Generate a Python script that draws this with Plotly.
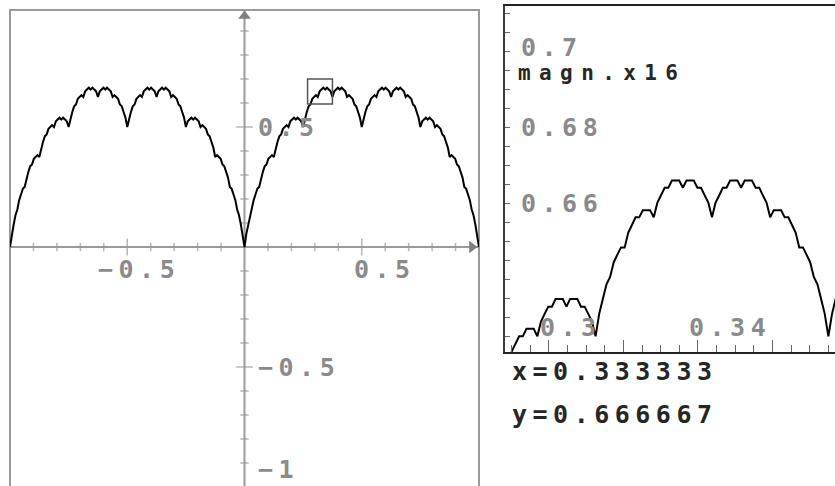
import plotly.graph_objects as go

W, H = 835, 486

# ---------------- data ----------------
# curve values for x = 0, 1/128, ..., 1/2 (curve is mirror-symmetric about x=1/2 and x=0)
half_curve_y = [0, 0.0547, 0.0938, 0.1328, 0.1563, 0.1953, 0.2188, 0.2422, 0.25,
                0.2891, 0.3125, 0.3359, 0.3438, 0.3672, 0.375, 0.3828, 0.375,
                0.4141, 0.4375, 0.4609, 0.4688, 0.4922, 0.5, 0.5078, 0.5,
                0.5234, 0.5313, 0.5391, 0.5313, 0.5391, 0.5313, 0.5234, 0.5,
                0.5391, 0.5625, 0.5859, 0.5938, 0.6172, 0.625, 0.6328, 0.625,
                0.6484, 0.6563, 0.6641, 0.6563, 0.6641, 0.6563, 0.6484, 0.625,
                0.6484, 0.6563, 0.6641, 0.6563, 0.6641, 0.6563, 0.6484, 0.625,
                0.6328, 0.625, 0.6172, 0.5938, 0.5859, 0.5625, 0.5391, 0.5]
half_step = 1 / 128

# magnified window (x16) around x = 1/3, samples every 1/1024 starting at 295/1024
zoom_x0, zoom_step = 295 / 1024, 1 / 1024
zoom_y = [0.6172, 0.6172, 0.6211, 0.6230, 0.6250, 0.6250, 0.6270, 0.6270, 0.6270,
          0.6250, 0.6289, 0.6309, 0.6328, 0.6328, 0.6348, 0.6348, 0.6348, 0.6328,
          0.6348, 0.6348, 0.6348, 0.6328, 0.6328, 0.6309, 0.6289, 0.6250, 0.6309,
          0.6348, 0.6387, 0.6406, 0.6445, 0.6465, 0.6484, 0.6484, 0.6523, 0.6543,
          0.6563, 0.6563, 0.6582, 0.6582, 0.6582, 0.6563, 0.6602, 0.6621, 0.6641,
          0.6641, 0.6660, 0.6660, 0.6660, 0.6641, 0.6660, 0.6660, 0.6660, 0.6641,
          0.6641, 0.6621, 0.6602, 0.6563, 0.6602, 0.6621, 0.6641, 0.6641, 0.6660,
          0.6660, 0.6660, 0.6641, 0.6660, 0.6660, 0.6660, 0.6641, 0.6641, 0.6621,
          0.6602, 0.6563, 0.6582, 0.6582, 0.6582, 0.6563, 0.6563, 0.6543, 0.6523,
          0.6484, 0.6484, 0.6465, 0.6445, 0.6406, 0.6387, 0.6348, 0.6309, 0.6250,
          0.6309, 0.6348, 0.6387]

# axes / ticks
left_x_range = [-1.0, 1.0]
left_y_range = [-0.9958, 0.9875]
left_minor_ticks = [-0.9, -0.8, -0.7, -0.6, -0.4, -0.3, -0.2, -0.1,
                    0.1, 0.2, 0.3, 0.4, 0.6, 0.7, 0.8, 0.9]
left_x_major_ticks = [-0.5, 0.5]
left_y_major_ticks = [-1.0, -0.5, 0.5]
left_x_labels = [(-0.5, "\u22120.5"), (0.5, "0.5")]
left_y_labels = [(0.5, "0.5"), (-0.5, "\u22120.5"), (-1.0, "\u22121")]
zoom_box_x = [0.269, 0.375]
zoom_box_y = [0.596, 0.700]

right_x_range = [0.28819, 0.37678]
right_y_range = [0.62087, 0.71192]
right_x_labels = [(0.30, "0.3"), (0.34, "0.34")]
right_y_labels = [(0.70, "0.7"), (0.68, "0.68"), (0.66, "0.66")]
info_title = "magn.x16"
info_x = "x=0.333333"
info_y = "y=0.666667"

# ---------------- build series ----------------
unit_y = half_curve_y + half_curve_y[-2::-1]          # x in [0, 1]
curve_y = unit_y[::-1] + unit_y[1:]                   # x in [-1, 1]
curve_x = [-1 + i * half_step for i in range(len(curve_y))]
zoom_x = [zoom_x0 + i * zoom_step for i in range(len(zoom_y))]

LIGHT = "#9a9a9a"
DARK = "#3c3c3c"
LABEL = "#8a8a8a"
FONT = "DejaVu Sans Mono"
FS = 25
LS = 5.5

fig = go.Figure()

# left panel axes ticks
fig.add_trace(go.Scatter(
    x=left_minor_ticks + left_x_major_ticks, y=[0] * (len(left_minor_ticks) + 2),
    mode="markers", hoverinfo="skip", showlegend=False, xaxis="x", yaxis="y",
    marker=dict(symbol="line-ns", size=[6] * len(left_minor_ticks) + [12, 12],
                line=dict(color=LIGHT, width=1.5))))
fig.add_trace(go.Scatter(
    x=[0] * (len(left_minor_ticks) + 3), y=left_minor_ticks + left_y_major_ticks,
    mode="markers", hoverinfo="skip", showlegend=False, xaxis="x", yaxis="y",
    marker=dict(symbol="line-ew", size=[6] * len(left_minor_ticks) + [12, 12, 12],
                line=dict(color=LIGHT, width=1.5))))
# arrow heads
fig.add_trace(go.Scatter(
    x=[left_x_range[1] - 0.03, 0], y=[0, left_y_range[1] - 0.025],
    mode="markers", hoverinfo="skip", showlegend=False, xaxis="x", yaxis="y",
    marker=dict(symbol=["triangle-right", "triangle-up"], size=11, color="#808080")))

# curves
fig.add_trace(go.Scatter(x=curve_x, y=curve_y, mode="lines", showlegend=False,
                         line=dict(color="black", width=2), xaxis="x", yaxis="y"))
fig.add_trace(go.Scatter(x=zoom_x, y=zoom_y, mode="lines", showlegend=False,
                         line=dict(color="black", width=2), xaxis="x2", yaxis="y2"))

shapes = [
    dict(type="rect", xref="x domain", yref="y domain", x0=0, x1=1, y0=-0.05, y1=1,
         line=dict(color=LIGHT, width=2), layer="below"),
    dict(type="line", xref="x", yref="y", x0=left_x_range[0], x1=left_x_range[1], y0=0, y1=0,
         line=dict(color=LIGHT, width=2), layer="below"),
    dict(type="line", xref="x", yref="y", x0=0, x1=0, y0=left_y_range[0] - 0.05, y1=left_y_range[1],
         line=dict(color=LIGHT, width=2), layer="below"),
    dict(type="rect", xref="x", yref="y", x0=zoom_box_x[0], x1=zoom_box_x[1],
         y0=zoom_box_y[0], y1=zoom_box_y[1], line=dict(color="#555555", width=1.5)),
]


def txt(s, color, size=FS, ls=LS, **kw):
    d = dict(text=f'<span style="letter-spacing:{ls}px">{s}</span>', showarrow=False,
             font=dict(family=FONT, size=size, color=color, weight="bold"),
             xanchor="left", yanchor="middle", borderpad=0)
    d.update(kw)
    return d


ann = []
for v, s in left_x_labels:
    ann.append(txt(s, LABEL, xref="x", yref="y", x=v, y=0,
                   xshift=-30 if s.startswith("\u2212") else -9, yshift=-22))
for v, s in left_y_labels:
    if v < left_y_range[0]:
        # label at the bottom edge of the panel, kept fully inside the picture
        ann.append(txt(s, LABEL, xref="x", yref="y", x=0, y=left_y_range[0], xshift=12,
                       yanchor="bottom", yshift=1))
    else:
        ann.append(txt(s, LABEL, xref="x", yref="y", x=0, y=v, xshift=12))
for v, s in right_y_labels:
    ann.append(txt(s, LABEL, xref="x2 domain", yref="y2", x=0, y=v, xshift=15,
                   yshift=4 if v == 0.70 else 0))
for v, s in right_x_labels:
    ann.append(txt(s, LABEL, xref="x2", yref="y2 domain", x=v, y=0, xshift=-10, yshift=25))
ann.append(txt(info_title, "#262626", size=21, ls=8.4, xref="x2 domain", yref="paper",
               x=0, y=1 - 73 / H, xshift=12))
ann.append(txt(info_x, "#262626", xref="paper", yref="paper", x=511 / W, y=1 - 371 / H))
ann.append(txt(info_y, "#262626", xref="paper", yref="paper", x=511 / W, y=1 - 414 / H))

fig.update_layout(
    width=W, height=H, margin=dict(l=0, r=0, t=0, b=0),
    paper_bgcolor="white", plot_bgcolor="white", showlegend=False,
    xaxis=dict(domain=[10 / W, 479 / W], range=left_x_range, visible=False, anchor="y"),
    yaxis=dict(domain=[0, 1 - 10 / H], range=left_y_range, visible=False, anchor="x"),
    xaxis2=dict(domain=[505 / W, 1], range=right_x_range, anchor="y2",
                showline=True, linecolor="#222222", linewidth=2, mirror=True,
                showgrid=False, zeroline=False, showticklabels=False,
                ticks="inside", tick0=0.30, dtick=0.02, ticklen=12, tickwidth=1, tickcolor="#666666",
                minor=dict(ticks="inside", dtick=0.005, ticklen=7, tickwidth=1, tickcolor="#666666")),
    yaxis2=dict(domain=[1 - 352 / H, 1 - 6 / H], range=right_y_range, anchor="x2",
                showline=True, linecolor=DARK, linewidth=2,
                showgrid=False, zeroline=False, showticklabels=False,
                ticks="inside", tick0=0.70, dtick=0.005, ticklen=5, tickwidth=1, tickcolor="#666666"),
    shapes=shapes, annotations=ann,
)

fig.write_html("out.html", config={"displayModeBar": False},
               post_script="document.body.style.margin='0px';")
